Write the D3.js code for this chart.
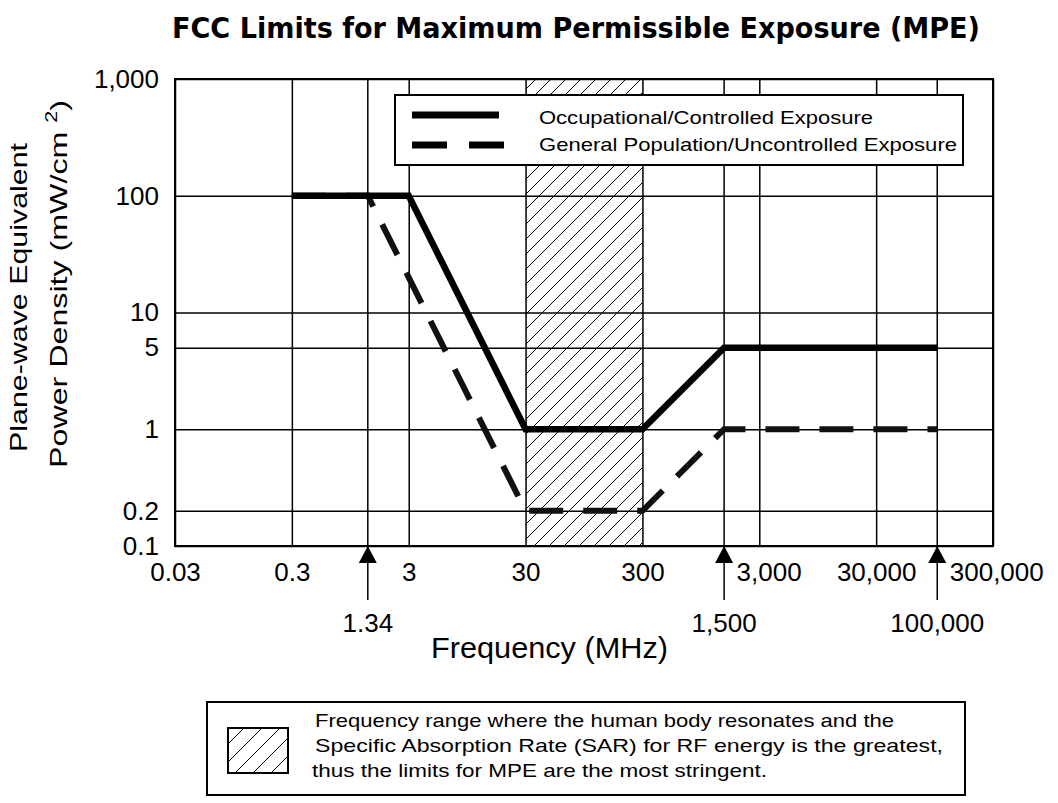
<!DOCTYPE html>
<html>
<head>
<meta charset="utf-8">
<script src="https://cdn.jsdelivr.net/npm/d3@7"></script>
<style>
  body { margin: 0; background: #fff; }
  svg { display: block; }
</style>
</head>
<body>
<div id="chart"></div>
<script>
// values
var xTicks = [0.03, 0.3, 3, 30, 300, 3000, 30000, 300000];
var xTickLabels = ['0.03', '0.3', '3', '30', '300', '3,000', '30,000', '300,000'];
var yTicks = [0.1, 0.2, 1, 5, 10, 100, 1000];
var yTickLabels = ['0.1', '0.2', '1', '5', '10', '100', '1,000'];
var breakFreqs = [1.34, 1500, 100000];
var breakLabels = ['1.34', '1,500', '100,000'];

var occFreq = [0.3, 3, 30, 300, 1500, 100000];
var occLimit = [100, 100, 1, 1, 5, 5];
var genFreq = [0.3, 1.34, 30, 300, 1500, 100000];
var genLimit = [100, 100, 0.2, 0.2, 1, 1];
var sarRange = [30, 300];

var seriesNames = ['Occupational/Controlled Exposure', 'General Population/Uncontrolled Exposure'];
var sarNote = [
    'Frequency range where the human body resonates and the',
    'Specific Absorption Rate (SAR) for RF energy is the greatest,',
    'thus the limits for MPE are the most stringent.'
];

var W = 1058, H = 803;
var plot = {left: 175, right: 993, top: 79, bottom: 546};
var FONT = 'Liberation Sans, Arial, sans-serif';

var svg = d3.select('#chart').append('svg')
    .attr('width', W)
    .attr('height', H)
    .style('font-family', FONT);

var x = d3.scaleLog()
    .domain([xTicks[0], xTicks[xTicks.length - 1]])
    .range([plot.left, plot.right]);

var y = d3.scaleLog()
    .domain([yTicks[0], yTicks[yTicks.length - 1]])
    .range([plot.bottom, plot.top]);

// hatch patterns
var defs = svg.append('defs');
function hatch (id, s) {
    defs.append('pattern')
        .attr('id', id)
        .attr('patternUnits', 'userSpaceOnUse')
        .attr('width', s)
        .attr('height', s)
        .append('path')
        .attr('d', 'M0,' + s + ' L' + s + ',0 M-3,3 L3,-3 M' + (s - 3) + ',' + (s + 3) + ' L' + (s + 3) + ',' + (s - 3))
        .attr('stroke', '#000')
        .attr('stroke-width', 1);
}
hatch('hatch', 15);
hatch('hatch2', 18);

// SAR resonance band
svg.append('rect')
    .attr('x', x(sarRange[0]))
    .attr('y', plot.top)
    .attr('width', x(sarRange[1]) - x(sarRange[0]))
    .attr('height', plot.bottom - plot.top)
    .attr('fill', 'url(#hatch)');

// x grid + labels
var xAxis = svg.append('g')
    .attr('transform', 'translate(0,' + plot.bottom + ')')
    .call(d3.axisBottom(x)
        .tickValues(xTicks)
        .tickFormat(function (d, i) { return xTickLabels[i]; })
        .tickSize(-(plot.bottom - plot.top))
        .tickPadding(17));
xAxis.attr('font-family', FONT).attr('font-size', 26);
xAxis.select('.domain').remove();
xAxis.selectAll('line').attr('stroke', '#000').attr('stroke-width', 1.5);
xAxis.selectAll('text').attr('fill', '#000');

// labels sitting on top of an arrow are pushed to its right
xAxis.selectAll('text').each(function (d) {
    var t = d3.select(this);
    var w = this.getComputedTextLength();
    breakFreqs.forEach(function (b) {
        var dx = x(b) - x(d);
        if (dx < 0 && -dx < w / 2 + 10) {
            t.attr('text-anchor', 'start').attr('x', dx + 12);
        }
    });
});

// y grid + labels
var yAxis = svg.append('g')
    .attr('transform', 'translate(' + plot.left + ',0)')
    .call(d3.axisLeft(y)
        .tickValues(yTicks)
        .tickFormat(function (d, i) { return yTickLabels[i]; })
        .tickSize(-(plot.right - plot.left))
        .tickPadding(16));
yAxis.attr('font-family', FONT).attr('font-size', 26);
yAxis.select('.domain').remove();
yAxis.selectAll('line').attr('stroke', '#000').attr('stroke-width', 1.5);
yAxis.selectAll('text').attr('fill', '#000');

// break-point arrows
var arrows = svg.append('g');
breakFreqs.forEach(function (b, i) {
    var bx = x(b);
    arrows.append('line')
        .attr('x1', bx).attr('x2', bx)
        .attr('y1', plot.top).attr('y2', plot.bottom + 54)
        .attr('stroke', '#000')
        .attr('stroke-width', 1.5);
    arrows.append('path')
        .attr('d', 'M' + bx + ',' + plot.bottom + ' L' + (bx - 9) + ',' + (plot.bottom + 17) + ' L' + (bx + 9) + ',' + (plot.bottom + 17) + ' Z')
        .attr('fill', '#000');
    arrows.append('text')
        .attr('x', bx)
        .attr('y', plot.bottom + 86)
        .attr('text-anchor', 'middle')
        .attr('font-size', 26)
        .text(breakLabels[i]);
});

// plot frame
svg.append('rect')
    .attr('x', plot.left)
    .attr('y', plot.top)
    .attr('width', plot.right - plot.left)
    .attr('height', plot.bottom - plot.top)
    .attr('fill', 'none')
    .attr('stroke', '#000')
    .attr('stroke-width', 2);

// limit curves
var line = d3.line()
    .x(function (d) { return x(d[0]); })
    .y(function (d) { return y(d[1]); });

svg.append('path')
    .datum(d3.zip(genFreq, genLimit))
    .attr('d', line)
    .attr('fill', 'none')
    .attr('stroke', '#111')
    .attr('stroke-width', 6)
    .attr('stroke-dasharray', '34,20');

svg.append('path')
    .datum(d3.zip(occFreq, occLimit))
    .attr('d', line)
    .attr('fill', 'none')
    .attr('stroke', '#000')
    .attr('stroke-width', 6.5);

// series legend
var leg = svg.append('g');
leg.append('rect')
    .attr('x', 395).attr('y', 95)
    .attr('width', 568).attr('height', 70)
    .attr('fill', '#fff')
    .attr('stroke', '#000')
    .attr('stroke-width', 2);
leg.append('line')
    .attr('x1', 412).attr('x2', 499)
    .attr('y1', 115).attr('y2', 115)
    .attr('stroke', '#000').attr('stroke-width', 7);
leg.append('line')
    .attr('x1', 412).attr('x2', 504)
    .attr('y1', 145).attr('y2', 145)
    .attr('stroke', '#000').attr('stroke-width', 7)
    .attr('stroke-dasharray', '35,22');
var legLen = [334, 418];
seriesNames.forEach(function (s, i) {
    leg.append('text')
        .attr('x', 539)
        .attr('y', 124 + i * 27)
        .attr('font-size', 19)
        .attr('textLength', legLen[i])
        .attr('lengthAdjust', 'spacingAndGlyphs')
        .text(s);
});

// title
svg.append('text')
    .attr('x', 576)
    .attr('y', 38)
    .attr('text-anchor', 'middle')
    .attr('font-family', 'DejaVu Sans, sans-serif')
    .attr('font-weight', 'bold')
    .attr('font-size', 29)
    .attr('textLength', 808)
    .attr('lengthAdjust', 'spacingAndGlyphs')
    .text('FCC Limits for Maximum Permissible Exposure (MPE)');

// axis titles
svg.append('text')
    .attr('x', 431)
    .attr('y', 658)
    .attr('font-size', 29)
    .attr('textLength', 237)
    .attr('lengthAdjust', 'spacingAndGlyphs')
    .text('Frequency (MHz)');

svg.append('text')
    .attr('transform', 'translate(27,452) rotate(-90)')
    .attr('font-size', 24)
    .attr('textLength', 309)
    .attr('lengthAdjust', 'spacingAndGlyphs')
    .text('Plane-wave Equivalent');

var yt2 = svg.append('text')
    .attr('transform', 'translate(67,468) rotate(-90)')
    .attr('font-size', 24)
    .attr('textLength', 368)
    .attr('lengthAdjust', 'spacingAndGlyphs');
yt2.append('tspan').text('Power Density (mW/cm ');
yt2.append('tspan').attr('font-size', 16).attr('dy', -10).text('2');
yt2.append('tspan').attr('dy', 10).text(')');

// SAR note box
var note = svg.append('g');
note.append('rect')
    .attr('x', 207).attr('y', 702)
    .attr('width', 758).attr('height', 93)
    .attr('fill', '#fff')
    .attr('stroke', '#000')
    .attr('stroke-width', 2);
note.append('rect')
    .attr('x', 228).attr('y', 728)
    .attr('width', 60).attr('height', 45)
    .attr('fill', 'url(#hatch2)')
    .attr('stroke', '#000')
    .attr('stroke-width', 2);
var noteLen = [579, 628, 455];
sarNote.forEach(function (s, i) {
    note.append('text')
        .attr('x', i === 2 ? 312 : 315)
        .attr('y', 727 + i * 25)
        .attr('font-size', 19)
        .attr('textLength', noteLen[i])
        .attr('lengthAdjust', 'spacingAndGlyphs')
        .text(s);
});
</script>
</body>
</html>
